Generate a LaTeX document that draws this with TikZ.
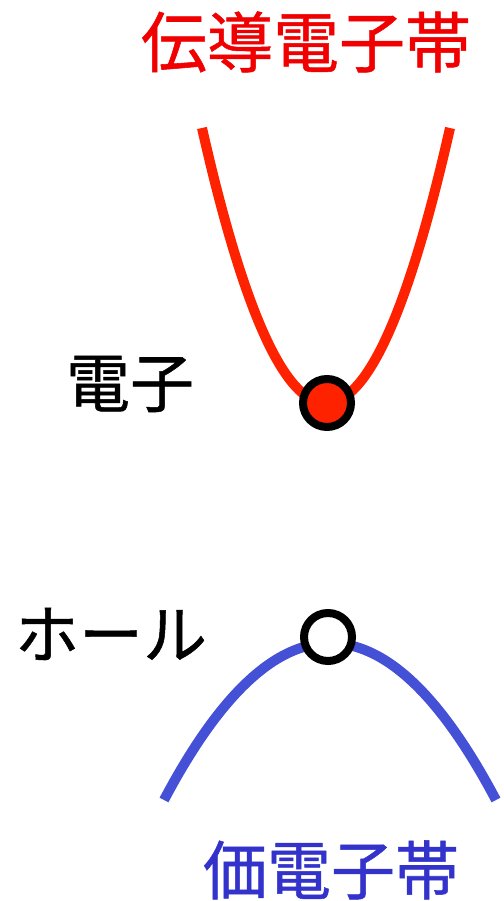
\documentclass[tikz,border=0pt]{standalone}
\usepackage{fontspec}
\newfontfamily\cjk[FakeBold=0.8]{Noto Sans CJK JP}
\definecolor{cbred}{RGB}{255,34,0}
\definecolor{txred}{RGB}{240,0,0}
\definecolor{cbblue}{RGB}{68,80,214}
\definecolor{txblue}{RGB}{51,51,204}
\tikzset{
  lbl/.style={inner sep=0pt, font=\cjk\fontsize{64}{64}\selectfont},
  band/.style={line width=10pt},
  carrier/.style={circle, draw=black, line width=8pt, minimum size=48pt, inner sep=0pt}
}
\begin{document}
\begin{tikzpicture}[x=1pt,y=-1pt]
\useasboundingbox (0,0) rectangle (503,901);
% conduction band
\draw[band, cbred] (202,128) .. controls (285,494.7) and (367,494.7) .. (450,128);
% valence band
\draw[band, cbblue] (164,800) .. controls (274.7,590.7) and (385.3,590.7) .. (496,800);
% carriers
\node[carrier, fill=cbred] (el) at (327,403) {};
\node[carrier, fill=white] (ho) at (328,637) {};
% labels
\node[lbl, text=txred, font=\cjk\fontsize{66}{66}\selectfont] (cb) at (306,42) {伝導電子帯};
\node[lbl] (elab) at (130,384) {電子};
\node[lbl] (hlab) at (111,634) {ホール};
\node[lbl, text=txblue] (vb) at (331,870) {価電子帯};
\end{tikzpicture}
\end{document}
